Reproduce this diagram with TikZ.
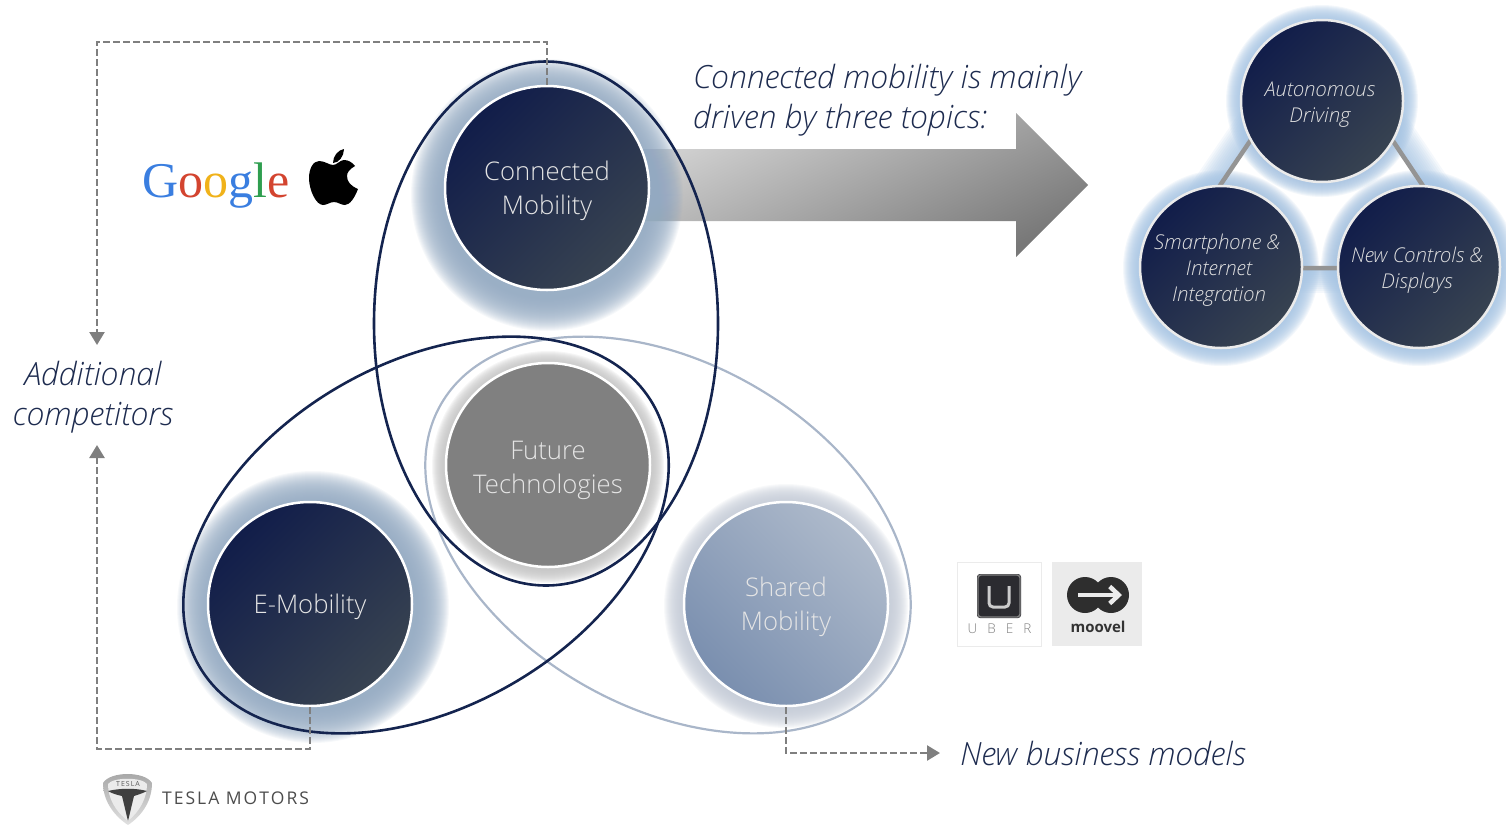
\documentclass[tikz,border=0pt]{standalone}
\usepackage{fontspec}
\setmainfont{Open Sans Light}
\newfontfamily\googlefont{Liberation Serif}
\newfontfamily\boldsans{Open Sans}
\usetikzlibrary{arrows.meta,calc}
\definecolor{navyA}{HTML}{111D4A}
\definecolor{navyB}{HTML}{384351}
\definecolor{navyLine}{HTML}{14244F}
\definecolor{paleLine}{HTML}{A9B6C9}
\definecolor{shareA}{HTML}{AEBACB}
\definecolor{shareB}{HTML}{7A8FAF}
\definecolor{glowSteel}{HTML}{93A9C1}
\definecolor{glowPale}{HTML}{C2C9D5}
\definecolor{glowSky}{HTML}{A5C3E2}
\definecolor{glowGrey}{HTML}{C2C2C2}
\definecolor{dashGrey}{HTML}{7F7F7F}
\definecolor{headText}{HTML}{1D2B4F}
\definecolor{gBlue}{HTML}{3A7EE0}
\definecolor{gRed}{HTML}{D3442F}
\definecolor{gYellow}{HTML}{F0B21A}
\definecolor{gGreen}{HTML}{2F9E4F}
\definecolor{uberDark}{HTML}{2B2B30}
% x, y, outer radius, steps, opacity, colour
\newcommand{\softglow}[6]{\foreach \k in {0,...,#4}{\fill[#6,opacity=#5] (#1,#2) circle [radius={#3-\k}];}}
\newcommand{\ls}{\hspace*{4pt}}
\newcommand{\up}[1]{\rule{0pt}{#1pt}}
\tikzset{
  bigdisc/.style={circle,minimum size=204pt,inner sep=0pt,draw=white,line width=2.5pt,align=center,text=white!90!black,font=\fontsize{25.7}{34}\selectfont},
  smalldisc/.style={circle,minimum size=162pt,inner sep=0pt,draw=white!92!black,line width=2.5pt,align=center,text=white!88!black,font=\fontsize{20.4}{26}\selectfont\itshape},
  navyfill/.style={top color=navyA,bottom color=navyB,shading angle=45},
  sharefill/.style={top color=shareA,bottom color=shareB,shading angle=-45},
  greyfill/.style={fill=black!50},
  dashline/.style={draw=dashGrey,line width=2.5pt,dash pattern=on 7pt off 3pt},
  tipped/.style={dashline,-{Triangle[length=13pt,width=15pt,fill=dashGrey]}},
  lobe/.style={line width=2.6pt,draw=navyLine},
  palelobe/.style={line width=2.2pt,draw=paleLine},
  heading/.style={align=left,anchor=west,inner sep=0pt,text=headText,font=\fontsize{32}{40}\selectfont\itshape},
  linkbar/.style={draw=black!42,line width=4.5pt}
}
\begin{document}
\begin{tikzpicture}[x=1pt,y=-1pt]
\useasboundingbox (0,0) rectangle (1506,825);
% block arrow
\shade[top color=black!17,bottom color=black!53,shading angle=25]
  (640,149) -- (1016,149) -- (1016,113) -- (1088,185) -- (1016,257) -- (1016,221) -- (640,221) -- cycle;
% glows
\softglow{547}{195}{136}{32}{.08}{glowSteel}
\softglow{313}{607}{136}{32}{.08}{glowSteel}
\softglow{786}{606}{122}{20}{.11}{glowPale}
\softglow{548}{467}{116}{14}{.15}{glowGrey}
% lobes
\draw[palelobe,rotate around={-30:(668,535)}] (668,535) ellipse [x radius=262,y radius=172];
\draw[lobe] (546,323.5) ellipse [x radius=172,y radius=262];
\draw[lobe,rotate around={30:(426,535)}] (426,535) ellipse [x radius=262,y radius=172];
% main discs
\node[bigdisc,navyfill] (cm) at (547,188) {\up{25.5}Connected\\Mobility};
\node[bigdisc,greyfill] (ft) at (548,465) {\up{28.5}Future\\Technologies};
\node[bigdisc,navyfill] (em) at (310,604) {\up{25.5}E-Mobility};
\node[bigdisc,sharefill] (sm) at (786,604) {\up{25.5}Shared\\Mobility};
% labels
\node[heading] (topics) at (693,100) {Connected mobility is mainly\\driven by three topics:};
\node[heading,align=center,anchor=center] (rivals) at (93,397) {Additional\\competitors};
\node[heading] (newbiz) at (960,753) {New business models};
% dashed connectors
\coordinate (tl) at (97,42);
\coordinate (bl) at (97,749);
\coordinate (rivalsup) at (97,345);
\coordinate (rivalsdown) at (97,445);
\coordinate (bizend) at (940,753);
\draw[tipped] (cm.north) |- (tl) -- (rivalsup);
\draw[tipped] (em.south) |- (bl) -- (rivalsdown);
\draw[tipped] (sm.south) |- (bizend);
% three topics
\coordinate (pa) at (1322,35);
\coordinate (pb) at (1164,268);
\coordinate (pc) at (1478,268);
\foreach \w in {50,46,...,6}{
  \draw[glowSky,line width=\w pt,opacity=.11] (1300,68) -- (1185,237);
  \draw[glowSky,line width=\w pt,opacity=.11] (1344,68) -- (1458,237);
  \draw[glowSky,line width=\w pt,opacity=.11] (1200,268) -- (1440,268);
}
\fill[white] (pa) -- (pb) -- (pc) -- cycle;
\softglow{1322}{101}{96}{15}{.13}{glowSky}
\softglow{1221}{268}{98}{17}{.12}{glowSky}
\softglow{1419}{268}{98}{17}{.12}{glowSky}
\draw[linkbar] (pa) -- (pb) -- (pc) -- cycle;
\node[smalldisc,navyfill] (ad) at (1322,101) {\up{22.5}Autonomous\ls\\Driving\ls};
\node[smalldisc,navyfill] (si) at (1221,267) {\up{21.5}Smartphone \&\ls\ls\\Internet\ls\ls\\Integration\ls};
\node[smalldisc,navyfill] (nc) at (1419,267) {\up{21.5}New Controls \&\ls\\Displays\ls};
% Google
\node[anchor=center,inner sep=0pt,font=\googlefont\fontsize{50}{50}\selectfont] (google) at (216,186)
  {\textcolor{gBlue}{G}\textcolor{gRed}{o}\textcolor{gYellow}{o}\textcolor{gBlue}{g}\textcolor{gGreen}{l}\textcolor{gRed}{e}};
% Apple
\fill[black] (333,165) .. controls (329,165) and (325,161) .. (319,161)
  .. controls (313,161) and (309,169) .. (309,178)
  .. controls (309,190) and (316,205) .. (323,205)
  .. controls (327,205) and (330,202) .. (334,202)
  .. controls (338,202) and (341,205) .. (345,205)
  .. controls (350,205) and (355,197) .. (358,189)
  .. controls (351,186) and (347,182) .. (347,176)
  .. controls (347,172) and (350,169) .. (355,166)
  .. controls (352,162) and (348,160) .. (344,160)
  .. controls (340,160) and (337,165) .. (333,165) -- cycle;
\fill[black] (333,163) .. controls (333,156) and (338,150) .. (344,149) .. controls (344,156) and (339,163) .. (333,163) -- cycle;
% Uber
\draw[black!8,fill=white,line width=1pt] (957,562) rectangle (1041,646);
\fill[uberDark,rounded corners=3pt] (977,574) rectangle (1021,618);
\draw[black!50,line width=1.4pt,rounded corners=3pt] (978,575) rectangle (1020,617);
\draw[black!20,line width=3pt,rounded corners=4pt] (989,586) -- (989,607) -- (1009,607) -- (1009,586);
\node[inner sep=0pt,text=black!50,font=\fontsize{13.5}{14}\selectfont] (uber) at (999.5,629) {U\hspace{10pt}B\hspace{10pt}E\hspace{10pt}R};
% moovel
\fill[black!8] (1052,562) rectangle (1142,646);
\fill[black!82] (1085,595) circle [radius=18] (1111,595) circle [radius=18];
\draw[black!8,line width=4.5pt,-{Straight Barb[length=9pt,width=17pt,line width=4.5pt]}] (1078,595) -- (1122,595);
\node[inner sep=0pt,text=black!80,font=\boldsans\bfseries\fontsize{15}{15}\selectfont] (moovel) at (1098,627) {moovel};
% Tesla
\shade[top color=black!35,bottom color=black!12] (103,783) .. controls (110,771) and (145,771) .. (152,783) .. controls (152,800) and (143,815) .. (128,825) .. controls (113,815) and (103,800) .. (103,783) -- cycle;
\fill[white!92!black] (108,784) .. controls (113,777) and (142,777) .. (147,784) .. controls (147,798) and (140,811) .. (128,821) .. controls (115,811) and (108,798) .. (108,784) -- cycle;
\node[inner sep=0pt,text=black!65,font=\boldsans\fontsize{7}{7}\selectfont] (teslabadge) at (128,784) {T\hspace{1pt}E\hspace{1pt}S\hspace{1pt}L\hspace{1pt}A};
\fill[black!75] (108,791) .. controls (120,788) and (136,788) .. (147,791) .. controls (141,794) and (137,795) .. (134,796) -- (128,821) -- (122,796) .. controls (118,795) and (113,794) .. (108,791) -- cycle;
\node[anchor=west,inner sep=0pt,text=black!70,font=\boldsans\fontsize{17.5}{18}\selectfont] (tesla) at (162,798) {T\hspace{2pt}E\hspace{2pt}S\hspace{2pt}L\hspace{2pt}A\hspace{6.5pt}M\hspace{2pt}O\hspace{2pt}T\hspace{2pt}O\hspace{2pt}R\hspace{2pt}S};
\end{tikzpicture}
\end{document}
